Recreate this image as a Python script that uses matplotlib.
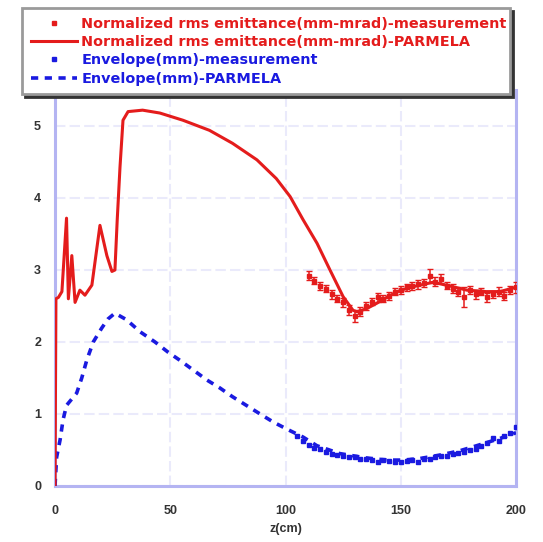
import matplotlib
matplotlib.use("Agg")
import matplotlib.pyplot as plt
from matplotlib.lines import Line2D

# ---- data ----
parmela_emit_z = [0, 0.4, 1.5, 3.0, 5.0, 5.8, 7.3, 8.7, 10.8, 13, 16, 19.5, 22.5, 24.7, 26, 27,
                  28.2, 29.5, 31.7, 38, 45.5, 55.5, 67, 77, 87.6, 96, 102, 107.6, 113.7, 119.3,
                  125, 129.3, 131, 135, 139.7, 145, 150, 157, 164, 171, 178.7, 187, 193, 200]
parmela_emit_v = [0, 2.6, 2.62, 2.7, 3.72, 2.6, 3.2, 2.55, 2.72, 2.65, 2.79, 3.62, 3.2, 2.98, 3.0, 3.7,
                  4.43, 5.08, 5.2, 5.22, 5.18, 5.08, 4.94, 4.76, 4.53, 4.27, 4.02, 3.7, 3.37, 3.0,
                  2.63, 2.44, 2.42, 2.46, 2.54, 2.64, 2.72, 2.78, 2.83, 2.78, 2.72, 2.70, 2.70, 2.76]

meas_emit_z = [110, 112.5, 115, 117.5, 120, 122.5, 125, 127.5, 130, 132.5, 135, 137.5, 140, 142.5,
               145, 147.5, 150, 152.5, 155, 157.5, 160, 162.5, 165, 167.5, 170, 172.5, 175, 177.5,
               180, 182.5, 185, 187.5, 190, 192.5, 195, 197.5, 200]
meas_emit_v = [2.92, 2.85, 2.78, 2.74, 2.66, 2.60, 2.55, 2.45, 2.36, 2.42, 2.50, 2.56, 2.62, 2.60,
               2.64, 2.70, 2.72, 2.76, 2.78, 2.80, 2.82, 2.92, 2.84, 2.88, 2.78, 2.74, 2.70, 2.62,
               2.72, 2.66, 2.70, 2.62, 2.66, 2.70, 2.64, 2.72, 2.76]
meas_emit_err = [0.06, 0.05, 0.06, 0.05, 0.06, 0.05, 0.06, 0.07, 0.08, 0.06, 0.06, 0.05, 0.06, 0.05,
                 0.06, 0.05, 0.06, 0.05, 0.06, 0.06, 0.06, 0.10, 0.06, 0.06, 0.05, 0.06, 0.06, 0.14,
                 0.06, 0.06, 0.05, 0.06, 0.05, 0.06, 0.06, 0.06, 0.08]

parmela_env_z = [0, 0.7, 2.2, 3.5, 5, 9.4, 11.6, 13.8, 16.6, 20.2, 23, 26, 31, 37, 43.4, 49, 54, 60,
                 66, 71.6, 77, 83, 89, 94.6, 100.6, 107.6, 113.6, 123.6, 135, 144, 151, 158, 167,
                 175.7, 184, 193, 200]
parmela_env_v = [0, 0.4, 0.64, 0.92, 1.12, 1.29, 1.5, 1.75, 2.0, 2.19, 2.32, 2.4, 2.31, 2.14, 2.0,
                 1.86, 1.75, 1.61, 1.47, 1.36, 1.24, 1.12, 1.0, 0.89, 0.79, 0.68, 0.56, 0.45, 0.39,
                 0.36, 0.36, 0.38, 0.43, 0.49, 0.57, 0.66, 0.74]

meas_env_z = [105, 107.5, 110, 112.5, 115, 117.5, 120, 122.5, 125, 127.5, 130, 132.5, 135, 137.5,
              140, 142.5, 145, 147.5, 150, 152.5, 155, 157.5, 160, 162.5, 165, 167.5, 170, 172.5,
              175, 177.5, 180, 182.5, 185, 187.5, 190, 192.5, 195, 197.5, 200]
meas_env_v = [0.70, 0.62, 0.57, 0.53, 0.51, 0.47, 0.45, 0.43, 0.42, 0.40, 0.40, 0.38, 0.37, 0.36,
              0.34, 0.36, 0.35, 0.34, 0.33, 0.35, 0.36, 0.34, 0.38, 0.37, 0.40, 0.41, 0.42, 0.44,
              0.46, 0.47, 0.50, 0.52, 0.56, 0.60, 0.66, 0.62, 0.70, 0.74, 0.82]

x_ticks = [0, 50, 100, 150, 200]
y_ticks = [0, 1, 2, 3, 4, 5]
labels = ["Normalized rms emittance(mm-mrad)-measurement",
          "Normalized rms emittance(mm-mrad)-PARMELA",
          "Envelope(mm)-measurement",
          "Envelope(mm)-PARMELA"]
xlabel = "z(cm)"

RED = "#e41c1c"
BLUE = "#1a1ae0"
SPINE = "#b4b4f2"
GRID = "#eaeafb"

plt.rcParams['font.family'] = ['Liberation Sans', 'DejaVu Sans']

fig = plt.figure(figsize=(5.43, 5.42), dpi=100)
ax = fig.add_axes([55 / 543, 1 - 486 / 542, (516 - 55) / 543, (486 - 90) / 542])

ax.plot(parmela_env_z, parmela_env_v, color=BLUE, lw=2.6, ls=(0, (2.0, 1.8)), zorder=3)
ax.plot(meas_env_z, meas_env_v, ls='none', marker='s', ms=3.2, color=BLUE, zorder=4)
ax.plot(parmela_emit_z, parmela_emit_v, color=RED, lw=2.2, zorder=3)
ax.errorbar(meas_emit_z, meas_emit_v, yerr=meas_emit_err, ls='none', marker='s', ms=3.0,
            color=RED, ecolor=RED, elinewidth=1.1, capsize=2, zorder=4)

ax.set_xlim(0, 200)
ax.set_ylim(0, 5.5)
ax.set_xticks(x_ticks)
ax.set_yticks(y_ticks)
ax.grid(True, color=GRID, ls=(0, (5, 2)), lw=1.5)
ax.set_axisbelow(True)
for s in ['left', 'bottom', 'right']:
    ax.spines[s].set_color(SPINE)
    ax.spines[s].set_linewidth(2.2)
ax.spines['top'].set_visible(False)
ax.tick_params(length=0, labelsize=9, labelcolor='#333333')
ax.tick_params(axis='x', pad=14)
ax.tick_params(axis='y', pad=10)
for t in ax.get_xticklabels() + ax.get_yticklabels():
    t.set_fontweight('bold')
ax.set_xlabel(xlabel, fontsize=9, color='#333333', fontweight='bold', labelpad=4)

handles = [
    Line2D([], [], ls='none', marker='s', ms=3.2, color=RED),
    Line2D([], [], color=RED, lw=2.2),
    Line2D([], [], ls='none', marker='s', ms=3.2, color=BLUE),
    Line2D([], [], color=BLUE, lw=2.6, ls=(0, (2.0, 1.8))),
]
leg = fig.legend(handles, labels, loc='upper left',
                 bbox_to_anchor=(22 / 543, 1 - 8 / 542, 488 / 543, 0), mode='expand',
                 frameon=True, fancybox=False, shadow={'color': '#333333', 'alpha': 1.0},
                 prop={'family': 'DejaVu Sans', 'weight': 'bold', 'size': 10.4},
                 handlelength=3.2, handletextpad=0.3,
                 labelspacing=0.3, borderpad=0.6, borderaxespad=0)
leg.get_frame().set_edgecolor('#9a9a9a')
leg.get_frame().set_linewidth(2)
for txt, c in zip(leg.get_texts(), [RED, RED, BLUE, BLUE]):
    txt.set_color(c)

fig.savefig("out.png", dpi=100)
